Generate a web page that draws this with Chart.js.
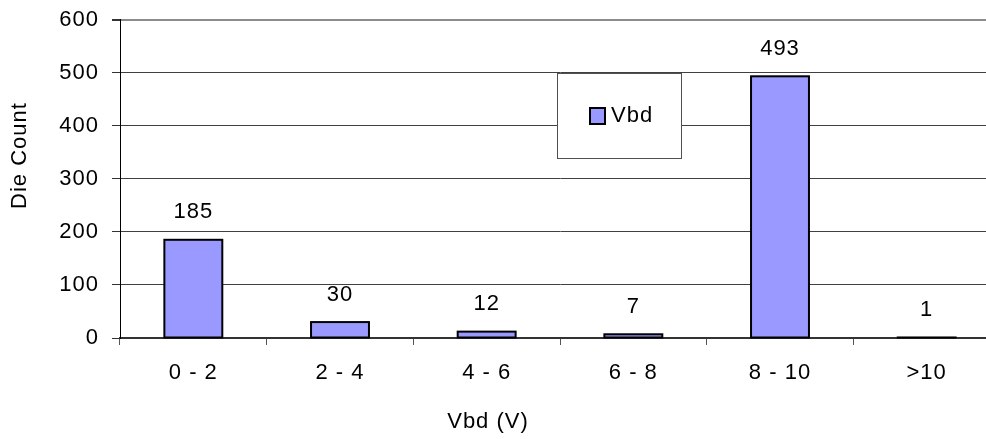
<!DOCTYPE html>
<html>
<head>
<meta charset="utf-8">
<script src="https://cdn.jsdelivr.net/npm/chart.js@4/dist/chart.umd.min.js"></script>
<style>
  html, body { margin: 0; padding: 0; background: #fff; overflow: hidden; }
  #wrap { width: 1000px; height: 439px; }
</style>
</head>
<body>
<div id="wrap"><canvas id="c" width="1000" height="439" style="width:1000px;height:439px"></canvas></div>
<script>
// Breakdown voltage histogram: die count per Vbd bin
const categories = ['0 - 2', '2 - 4', '4 - 6', '6 - 8', '8 - 10', '>10'];
const dieCounts = [185, 30, 12, 7, 493, 1];
const seriesName = 'Vbd';
const yMin = 0;
const yMax = 600;
const yStep = 100;
const xTitle = 'Vbd (V)';
const yTitle = 'Die Count';

const FONT = '"Liberation Sans", Arial, Helvetica, sans-serif';
const FONT_SIZE = 22;
const BAR_FILL = '#9999ff';
const SPACING = '1px';

function setSpacing(ctx) {
  if ('letterSpacing' in ctx) ctx.letterSpacing = SPACING;
}

// slightly widened lettering for all chart text
const letterSpacingPlugin = {
  id: 'letterSpacing',
  beforeLayout(chart) { setSpacing(chart.ctx); },
  beforeDraw(chart) { setSpacing(chart.ctx); }
};

// centred outline around every bar, kept visible even for tiny values
const barOutlinePlugin = {
  id: 'barOutline',
  afterDatasetsDraw(chart) {
    const ctx = chart.ctx;
    ctx.save();
    ctx.strokeStyle = '#000';
    ctx.lineWidth = 2;
    chart.getDatasetMeta(0).data.forEach(bar => {
      const { x, y, base, width } = bar.getProps(['x', 'y', 'base', 'width'], true);
      ctx.strokeRect(x - width / 2, Math.min(y, base), width, Math.abs(base - y));
    });
    ctx.restore();
  }
};

// value printed above each bar
const valueLabelPlugin = {
  id: 'valueLabels',
  afterDatasetsDraw(chart) {
    const ctx = chart.ctx;
    const ds = chart.data.datasets[0];
    ctx.save();
    setSpacing(ctx);
    ctx.font = FONT_SIZE + 'px ' + FONT;
    ctx.fillStyle = '#000';
    ctx.textAlign = 'center';
    ctx.textBaseline = 'middle';
    chart.getDatasetMeta(0).data.forEach((bar, i) => {
      const { x, y } = bar.getProps(['x', 'y'], true);
      ctx.fillText(String(ds.data[i]), x, y - 27.5);
    });
    ctx.restore();
  }
};

// axis titles
const axisTitlePlugin = {
  id: 'axisTitles',
  afterDraw(chart) {
    const ctx = chart.ctx;
    ctx.save();
    setSpacing(ctx);
    ctx.font = FONT_SIZE + 'px ' + FONT;
    ctx.fillStyle = '#000';
    ctx.textAlign = 'center';
    ctx.textBaseline = 'middle';
    ctx.fillText(xTitle, 488, 422);
    ctx.translate(20, 155.5);
    ctx.rotate(-Math.PI / 2);
    ctx.fillText(yTitle, 0, 0);
    ctx.restore();
  }
};

// boxed legend inside the plot
const legendBoxPlugin = {
  id: 'legendBox',
  afterDraw(chart) {
    const ctx = chart.ctx;
    const ds = chart.data.datasets[0];
    ctx.save();
    ctx.fillStyle = '#fff';
    ctx.fillRect(557, 73.5, 125, 85);
    ctx.strokeStyle = '#505050';
    ctx.lineWidth = 1;
    ctx.strokeRect(557.5, 73.5, 124, 85);
    ctx.fillStyle = ds.backgroundColor;
    ctx.fillRect(590, 108, 15, 16);
    ctx.strokeStyle = '#000';
    ctx.lineWidth = 2;
    ctx.strokeRect(590, 108, 15, 16);
    setSpacing(ctx);
    ctx.font = FONT_SIZE + 'px ' + FONT;
    ctx.fillStyle = '#000';
    ctx.textAlign = 'left';
    ctx.textBaseline = 'middle';
    ctx.fillText(ds.label, 611, 116);
    ctx.restore();
  }
};

new Chart(document.getElementById('c'), {
  type: 'bar',
  data: {
    labels: categories,
    datasets: [{
      label: seriesName,
      data: dieCounts,
      backgroundColor: BAR_FILL,
      borderWidth: 0,
      categoryPercentage: 1,
      barPercentage: 0.395
    }]
  },
  options: {
    responsive: false,
    animation: false,
    devicePixelRatio: 1,
    layout: { padding: { top: 19.5, left: 0, right: 0, bottom: 0 } },
    plugins: {
      legend: { display: false },
      tooltip: { enabled: false },
      title: { display: false }
    },
    scales: {
      x: {
        offset: true,
        afterFit(scale) {
          scale.height = 101;
          scale.paddingLeft = 0;
          scale.paddingRight = 0;
        },
        grid: {
          display: true,
          offset: true,
          drawOnChartArea: false,
          drawTicks: true,
          tickLength: 7,
          color: '#555',
          tickColor: '#555',
          lineWidth: 1
        },
        border: { display: true, color: '#333', width: 2 },
        ticks: {
          color: '#000',
          padding: 14.8,
          maxRotation: 0,
          autoSkip: false,
          font: { family: FONT, size: FONT_SIZE }
        }
      },
      y: {
        min: yMin,
        max: yMax,
        afterFit(scale) {
          scale.width = 120;
          scale.paddingTop = 0;
          scale.paddingBottom = 0;
        },
        grid: {
          color: c => (c.tick && c.tick.value === yMax ? '#8c8c8c' : '#404040'),
          lineWidth: c => (c.tick && c.tick.value === yMax ? 2 : 1),
          tickLength: 8,
          tickColor: '#333',
          drawTicks: true
        },
        border: { display: true, color: '#000', width: 1 },
        ticks: {
          stepSize: yStep,
          color: '#000',
          padding: 13,
          font: { family: FONT, size: FONT_SIZE }
        }
      }
    }
  },
  plugins: [letterSpacingPlugin, barOutlinePlugin, valueLabelPlugin, axisTitlePlugin, legendBoxPlugin]
});
</script>
</body>
</html>
